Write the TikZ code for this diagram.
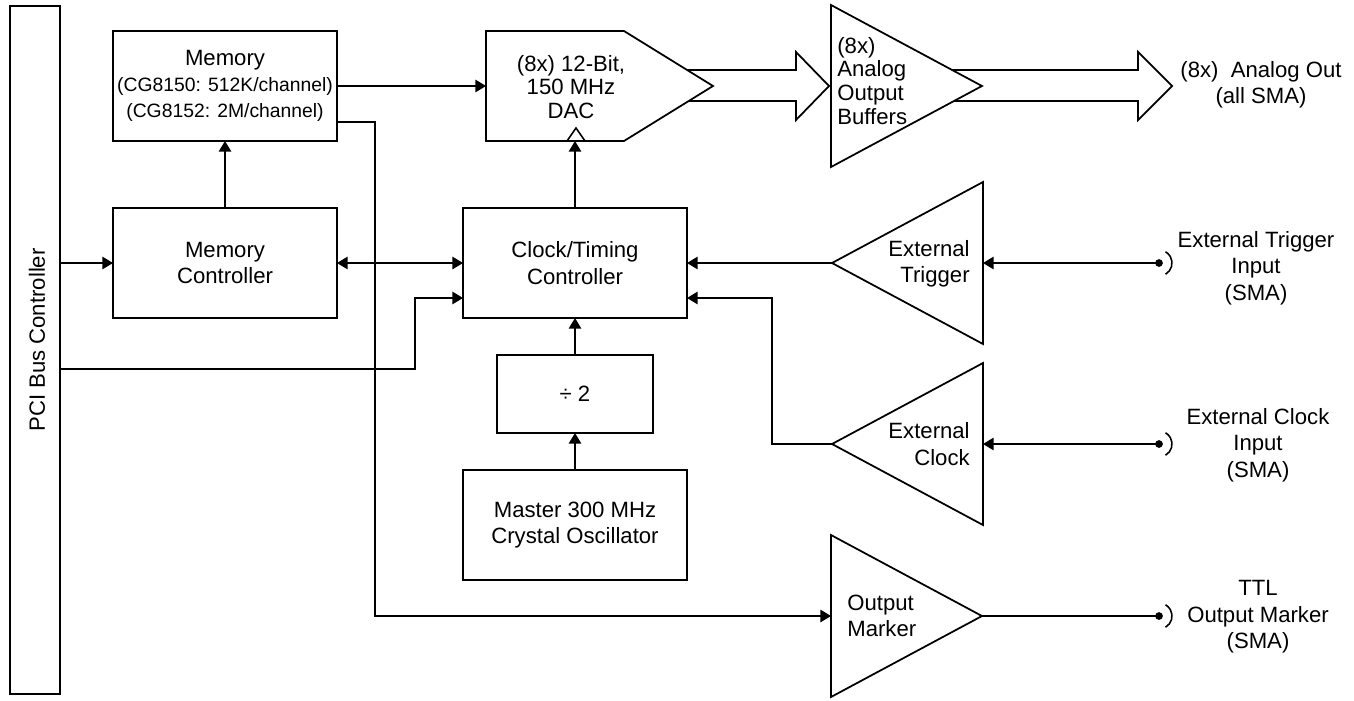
\documentclass[tikz,border=0pt]{standalone}
\usepackage{fontspec}
\setmainfont{Liberation Sans}
\usetikzlibrary{arrows.meta,shapes.geometric}

\tikzset{
  block/.style={draw, line width=1pt, align=center, minimum width=4.48cm, minimum height=2.2cm, inner sep=0pt, outer sep=0pt},
  amp/.style={draw, line width=1pt, fill=white, isosceles triangle, isosceles triangle stretches, minimum width=3.24cm, minimum height=3.02cm, inner sep=0pt, outer sep=0pt},
  wire/.style={line width=0.9pt},
  arr/.style={wire, -{Triangle[length=6pt,width=7pt]}},
  arrboth/.style={wire, {Triangle[length=6pt,width=7pt]}-{Triangle[length=6pt,width=7pt]}},
  bus/.style={line width=1pt, fill=white, line join=miter},
  lbl/.style={align=center, inner sep=0pt}
}

% SMA jack: dot with a half ring
\newcommand{\smaport}[1]{%
  \fill (#1) circle (2.2pt);
  \draw[wire] (#1) ++(-60:0.26cm) arc[start angle=-60, end angle=60, radius=0.26cm];}

\begin{document}
\begin{tikzpicture}[x=0.02cm, y=-0.02cm, font=\fontsize{12.6}{15}\selectfont]

    \useasboundingbox (0,0) rectangle (1354,700);

    % PCI bus
    \node[draw, line width=1pt, minimum width=1cm, minimum height=13.76cm, inner sep=0pt] (pci) at (35,350) {};
    \node[rotate=90, inner sep=0pt] (pcitxt) at (37,340) {PCI Bus Controller};

    % Blocks
    \node[block] (mem) at (225,86) {Memory\\{\fontsize{11}{15}\selectfont (CG8150: 512K/channel)}\\{\fontsize{11}{15}\selectfont (CG8152: 2M/channel)}};
    \node[block] (memctl) at (225,263) {Memory\\Controller};
    \node[block] (clk) at (575,263) {Clock/Timing\\Controller};
    \node[block, minimum width=3.12cm, minimum height=1.56cm] (div) at (575,394) {÷ 2};
    \node[block] (osc) at (575,525) {Master 300 MHz\\Crystal Oscillator};

    % Wide output arrows
    \draw[bus] (650,70) -- (796,70) -- (796,52) -- (829,86) -- (796,120) -- (796,101) -- (650,101);
    \draw[bus] (930,70) -- (1138,70) -- (1138,52) -- (1172,86) -- (1138,120) -- (1138,101) -- (930,101);

    % DAC
    \draw[line width=1pt, fill=white] (486,31) -- (624,31) -- (713,86) -- (624,141) -- (486,141) -- cycle;
    \draw[wire] (567,141) -- (576,128) -- (585,141);
    \coordinate (dacin) at (486,86);
    \coordinate (dacclk) at (576,141);
    \node[lbl, font=\fontsize{12.6}{13.5}\selectfont] (dac) at (571,87) {(8x) 12-Bit,\\150 MHz\\DAC};

    % Amplifiers
    \node[amp, anchor=lower side] (buf) at (831,86) {};
    \node[amp, shape border rotate=180, anchor=apex] (trig) at (832,263) {};
    \node[amp, shape border rotate=180, anchor=apex] (eclk) at (832,444) {};
    \node[amp, anchor=lower side] (marker) at (831,616) {};

    \node[lbl, align=left, anchor=west, font=\fontsize{12.6}{13.6}\selectfont] (buftxt) at (837,81) {(8x)\\Analog\\Output\\Buffers};
    \node[lbl, align=right, anchor=east] (trigtxt) at (970,264) {External\\Trigger};
    \node[lbl, align=right, anchor=east] (eclktxt) at (970,444) {External\\Clock};
    \node[lbl, align=left, anchor=west] (markertxt) at (847,616) {Output\\Marker};

    % Connectors
    \coordinate (trigsma) at (1159,263);
    \coordinate (clksma) at (1159,444);
    \coordinate (ttlsma) at (1159,616);
    \smaport{trigsma}
    \smaport{clksma}
    \smaport{ttlsma}

    \node[lbl] (aout) at (1261,85) {(8x)~ Analog Out\\(all SMA)};
    \node[lbl] (trigin) at (1256,268) {External Trigger\\Input\\(SMA)};
    \node[lbl] (clkin) at (1258,445) {External Clock\\Input\\(SMA)};
    \node[lbl] (ttlout) at (1258,617) {TTL\\Output Marker\\(SMA)};

    % Signal lines
    \coordinate (clkinB) at ([yshift=-0.7cm]clk.west);
    \coordinate (clkoutB) at ([yshift=-0.7cm]clk.east);

    \draw[arr] (pci.east |- memctl.west) -- (memctl.west);
    \draw[arr] (memctl.north) -- (mem.south);
    \draw[arr] (mem.east) -- (dacin);
    \draw[arr] ([yshift=-0.72cm]mem.east) -- ++(38,0) |- (marker.lower side);
    \draw[arrboth] (memctl.east) -- (clk.west);
    \draw[arr] ([yshift=-0.38cm]pci.east) -| ([xshift=-0.96cm]clkinB) -- (clkinB);
    \draw[arr] (clk.north) -- (clk.north |- dacclk);
    \draw[arr] (div.north) -- (clk.south);
    \draw[arr] (osc.north) -- (div.south);
    \draw[arr] (trig.apex) -- (trig.apex -| clk.east);
    \draw[arr] (eclk.apex) -| ([xshift=1.7cm]clkoutB) -- (clkoutB);
    \draw[arr] (trigsma) -- (trig.lower side);
    \draw[arr] (clksma) -- (eclk.lower side);
    \draw[wire] (marker.apex) -- (ttlsma);

\end{tikzpicture}
\end{document}
